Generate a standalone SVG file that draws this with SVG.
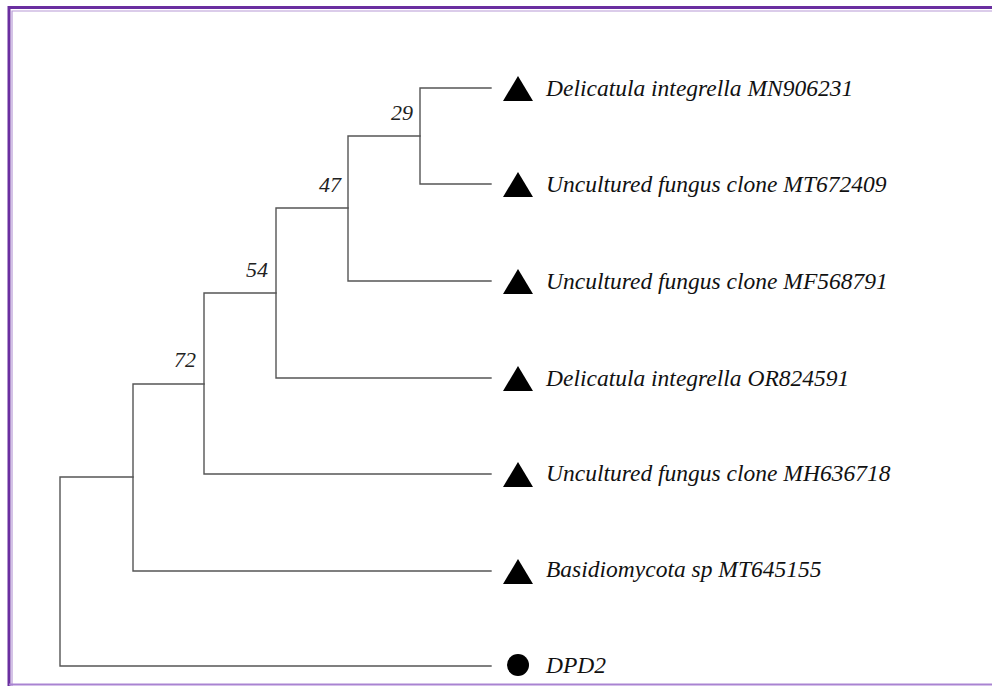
<svg xmlns="http://www.w3.org/2000/svg" width="992" height="686" viewBox="0 0 992 686">
<style>
.br{fill:none;stroke:#555;stroke-width:1.4;stroke-linecap:square}
.lab{font-family:"Liberation Serif",serif;font-style:italic;font-size:23.5px;fill:#111}
.bs{font-family:"Liberation Serif",serif;font-style:italic;font-size:22px;fill:#222;text-anchor:end}
.mk{fill:#000}
</style>
<rect x="0" y="0" width="992" height="686" fill="#fff"/>
<path d="M9,686 V7.5 H992" fill="none" stroke="#6a2fa0" stroke-width="3"/>
<path d="M12,686 V11 H992" fill="none" stroke="#b79ad6" stroke-width="1.2"/>
<line x1="9" y1="684.5" x2="992" y2="684.5" stroke="#a983d2" stroke-width="2"/>
<g id="connectors">
<path class="br" d="M491,88 H420 V184 H491"/>
<path class="br" d="M420,136 H348 V281 H491"/>
<path class="br" d="M348,208 H276 V378 H491"/>
<path class="br" d="M276,293 H204 V474 H491"/>
<path class="br" d="M204,384 H133 V571 H491"/>
<path class="br" d="M133,477 H60 V666 H491"/>
</g>
<g id="bootstrap">
<text class="bs" x="413" y="120">29</text>
<text class="bs" x="341" y="192">47</text>
<text class="bs" x="268" y="277">54</text>
<text class="bs" x="196" y="367">72</text>
</g>
<g id="leaf1"><polygon class="mk" points="503,101 533,101 518,76"/><text class="lab" x="546" y="96">Delicatula integrella MN906231</text></g>
<g id="leaf2"><polygon class="mk" points="503,197 533,197 518,172"/><text class="lab" x="546" y="192">Uncultured fungus clone MT672409</text></g>
<g id="leaf3"><polygon class="mk" points="503,294 533,294 518,269"/><text class="lab" x="546" y="289">Uncultured fungus clone MF568791</text></g>
<g id="leaf4"><polygon class="mk" points="503,391 533,391 518,366"/><text class="lab" x="546" y="386">Delicatula integrella OR824591</text></g>
<g id="leaf5"><polygon class="mk" points="503,487 533,487 518,462"/><text class="lab" x="546" y="481">Uncultured fungus clone MH636718</text></g>
<g id="leaf6"><polygon class="mk" points="503,584 533,584 518,559"/><text class="lab" x="546" y="577">Basidiomycota sp MT645155</text></g>
<g id="leaf7"><circle class="mk" cx="518" cy="665" r="11"/><text class="lab" x="546" y="673">DPD2</text></g>
</svg>
